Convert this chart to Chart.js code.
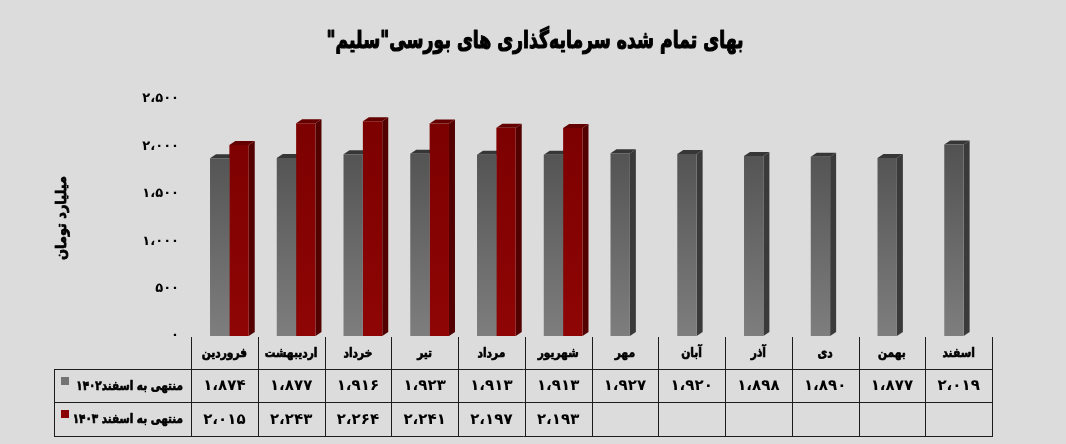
<!DOCTYPE html>
<html lang="fa">
<head>
<meta charset="utf-8">
<title>بهای تمام شده سرمایه‌گذاری های بورسی سلیم</title>
<script src="https://cdn.jsdelivr.net/npm/chart.js@4.4.1/dist/chart.umd.min.js"></script>
<style>
  html, body { margin: 0; padding: 0; background: #dcdcdc; }
  #wrap { position: relative; width: 1066px; height: 444px; }
</style>
</head>
<body>
<div id="wrap"><canvas id="chart"></canvas></div>
<script>
var months = ["فروردین", "اردیبهشت", "خرداد", "تیر", "مرداد", "شهریور", "مهر", "آبان", "آذر", "دی", "بهمن", "اسفند"]
var values1402 = [1874, 1877, 1916, 1923, 1913, 1913, 1927, 1920, 1898, 1890, 1877, 2019]
var values1403 = [2015, 2243, 2264, 2241, 2197, 2193, null, null, null, null, null, null]
var seriesNames = ["منتهی به اسفند۱۴۰۲", "منتهی به اسفند ۱۴۰۳"]
var yTicks = [0, 500, 1000, 1500, 2000, 2500]
var chartTitle = "بهای تمام شده سرمایه\u200cگذاری های بورسی\"سلیم\""
var yTitle = "میلیارد تومان"

var FONT = "'DejaVu Sans', 'Noto Sans', sans-serif"

// persian digits with arabic comma as thousands separator
function toFa(n) {
  var s = String(n).replace(/\B(?=(\d{3})+(?!\d))/g, "،")
  return s.replace(/\d/g, function (d) { return "۰۱۲۳۴۵۶۷۸۹"[d] })
}

// the arabic glyphs only come in a regular, wide cut: squeeze them and thicken with a stroke
function faText(ctx, text, x, y, px, align, squeeze, thick) {
  ctx.save()
  ctx.translate(x, y)
  ctx.scale(squeeze, 1)
  ctx.font = "bold " + px + "px " + FONT
  ctx.textAlign = align
  ctx.fillText(text, 0, 0)
  if (thick) {
    ctx.lineWidth = thick
    ctx.lineJoin = "round"
    ctx.strokeText(text, 0, 0)
  }
  ctx.restore()
}

function grayFill(context) {
  var c = context.chart
  var a = c.chartArea
  if (!a) return "#666666"
  var g = c.ctx.createLinearGradient(0, a.top, 0, a.bottom)
  g.addColorStop(0, "#474747")
  g.addColorStop(1, "#7e7e7e")
  return g
}

function redFill(context) {
  var c = context.chart
  var a = c.chartArea
  if (!a) return "#850000"
  var g = c.ctx.createLinearGradient(0, a.top, 0, a.bottom)
  g.addColorStop(0, "#7a0000")
  g.addColorStop(1, "#8f0505")
  return g
}

// side and top faces, drawn before the fronts so the red fronts cover the gray sides
var faceColors = [
  { side: "#3a3a3a", top: "#363636" },
  { side: "#520000", top: "#650000" }
]
var depthX = 6
var depthY = 4

var bars3d = {
  id: "bars3d",
  beforeDatasetsDraw: function (chart) {
    var ctx = chart.ctx
    ctx.save()
    chart.data.datasets.forEach(function (ds, di) {
      var meta = chart.getDatasetMeta(di)
      meta.data.forEach(function (bar, i) {
        if (ds.data[i] == null) return
        var left = bar.x - bar.width / 2
        var right = bar.x + bar.width / 2
        ctx.fillStyle = faceColors[di].side
        ctx.beginPath()
        ctx.moveTo(right, bar.y)
        ctx.lineTo(right + depthX, bar.y - depthY)
        ctx.lineTo(right + depthX, bar.base - depthY)
        ctx.lineTo(right, bar.base)
        ctx.closePath()
        ctx.fill()
        ctx.fillStyle = faceColors[di].top
        ctx.beginPath()
        ctx.moveTo(left, bar.y)
        ctx.lineTo(left + depthX, bar.y - depthY)
        ctx.lineTo(right + depthX, bar.y - depthY)
        ctx.lineTo(right, bar.y)
        ctx.closePath()
        ctx.fill()
      })
    })
    ctx.restore()
  }
}

var decorations = {
  id: "decorations",
  afterDraw: function (chart) {
    var ctx = chart.ctx
    var area = chart.chartArea
    ctx.save()
    ctx.direction = "rtl"
    ctx.fillStyle = "#000000"
    ctx.strokeStyle = "#000000"
    ctx.textBaseline = "middle"

    // title
    faText(ctx, chartTitle, 535, 42, 24, "center", 0.72, 1.2)

    // y axis title
    ctx.save()
    ctx.translate(62, 218)
    ctx.rotate(-Math.PI / 2)
    faText(ctx, yTitle, 0, 0, 14, "center", 0.92, 0.8)
    ctx.restore()

    // data table
    var cw = area.width / months.length
    var x0 = area.left - 5
    var x1 = x0 + cw * months.length
    var tableLeft = 54
    var yTop = 337, yRow1 = 369, yRow2 = 402, yBottom = 436

    ctx.strokeStyle = "#1c1c1c"
    ctx.lineWidth = 1
    ctx.beginPath()
    for (var i = 0; i <= months.length; i++) {
      var x = Math.round(x0 + i * cw) + 0.5
      ctx.moveTo(x, yTop)
      ctx.lineTo(x, yBottom)
    }
    ;[yRow1, yRow2, yBottom].forEach(function (y) {
      ctx.moveTo(tableLeft, y + 0.5)
      ctx.lineTo(Math.round(x1) + 1, y + 0.5)
    })
    ctx.moveTo(tableLeft + 0.5, yRow1)
    ctx.lineTo(tableLeft + 0.5, yBottom)
    ctx.stroke()

    ctx.strokeStyle = "#000000"
    months.forEach(function (m, i) {
      var cx = x0 + (i + 0.5) * cw
      faText(ctx, m, cx, (yTop + yRow1) / 2 + 1, 13, "center", 0.82, 0.7)
      faText(ctx, toFa(values1402[i]), cx, (yRow1 + yRow2) / 2 + 1, 15, "center", 1, 0)
      if (values1403[i] != null) {
        faText(ctx, toFa(values1403[i]), cx, (yRow2 + yBottom) / 2 + 1, 15, "center", 1, 0)
      }
    })

    // row headers with legend keys
    faText(ctx, seriesNames[0], x0 - 8, (yRow1 + yRow2) / 2 + 1, 13, "right", 0.8, 0.7)
    faText(ctx, seriesNames[1], x0 - 8, (yRow2 + yBottom) / 2 + 1, 13, "right", 0.8, 0.7)
    ctx.fillStyle = "#737373"
    ctx.fillRect(61, 377, 8, 8)
    ctx.fillStyle = "#8a0000"
    ctx.fillRect(61, 410, 8, 8)

    ctx.restore()
  }
}

new Chart(document.getElementById("chart"), {
  type: "bar",
  data: {
    labels: months,
    datasets: [
      { label: seriesNames[0], data: values1402, backgroundColor: grayFill },
      { label: seriesNames[1], data: values1403, backgroundColor: redFill }
    ]
  },
  options: {
    responsive: true,
    maintainAspectRatio: false,
    animation: false,
    layout: { padding: { top: 99, right: 69, bottom: 108, left: 0 } },
    datasets: {
      bar: { categoryPercentage: 0.58, barPercentage: 1, borderWidth: 0 }
    },
    scales: {
      x: { display: false },
      y: {
        min: 0,
        max: 2500,
        afterBuildTicks: function (scale) {
          scale.ticks = yTicks.map(function (v) { return { value: v } })
        },
        afterFit: function (scale) {
          scale.width = 196
        },
        ticks: {
          padding: 17,
          color: "#000000",
          font: { family: FONT, size: 13, weight: "bold" },
          callback: function (v) { return toFa(v) }
        },
        grid: { display: false, drawTicks: false },
        border: { display: false }
      }
    },
    plugins: {
      legend: { display: false },
      tooltip: { enabled: false }
    }
  },
  plugins: [bars3d, decorations]
})
</script>
</body>
</html>
